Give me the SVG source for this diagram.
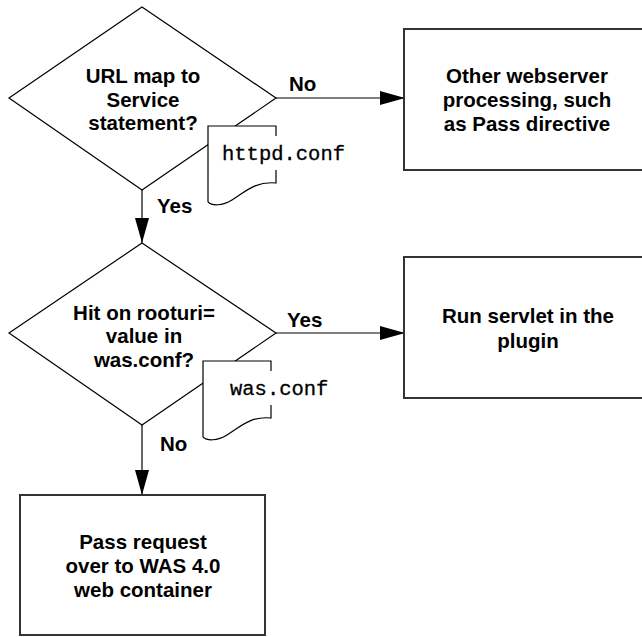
<svg xmlns="http://www.w3.org/2000/svg" width="642" height="637" viewBox="0 0 642 637">
  <style>
    .bg { fill: #ffffff; }
    .diamond { fill: #ffffff; stroke: #000000; stroke-width: 1.2; }
    .box { fill: #ffffff; stroke: #333333; stroke-width: 2; }
    .doc-fill { fill: #ffffff; stroke: none; }
    .doc-line { fill: none; stroke: #000000; stroke-width: 1.2; }
    .edge { fill: none; stroke: #000000; stroke-width: 1.2; }
    .label { font-family: "Liberation Sans", Arial, Helvetica, sans-serif; font-weight: bold; font-size: 20.5px; fill: #000000; text-anchor: middle; }
    .edge-label { font-family: "Liberation Sans", Arial, Helvetica, sans-serif; font-weight: bold; font-size: 20.5px; fill: #000000; }
    .file { font-family: "Liberation Mono", "Courier New", monospace; font-size: 20.5px; fill: #000000; stroke: #000000; stroke-width: 0.3; }
  </style>
  <defs>
    <marker id="arrow" viewBox="0 0 25 14" refX="25" refY="7" markerWidth="25" markerHeight="14" markerUnits="userSpaceOnUse" orient="auto">
      <path d="M0,0 L25,7 L0,14 Z" fill="#000000"/>
    </marker>
    <!-- document symbol: straight top, wavy bottom, open right side for the file name -->
    <g id="doc">
      <path class="doc-fill" d="M0,0 H68 V57 C47,55 37,66 24,74 C14,80 4,80 0,76 Z"/>
      <path class="doc-line" d="M0,76 V0 H68 V10 M68,44 V57 C47,55 37,66 24,74 C14,80 4,80 0,76"/>
    </g>
  </defs>

  <rect class="bg" x="0" y="0" width="642" height="637"/>

  <g id="connectors">
    <line class="edge" x1="276" y1="98" x2="405" y2="98" marker-end="url(#arrow)"/>
    <line class="edge" x1="142" y1="190" x2="142" y2="243" marker-end="url(#arrow)"/>
    <line class="edge" x1="276" y1="333" x2="405" y2="333" marker-end="url(#arrow)"/>
    <line class="edge" x1="142" y1="425" x2="142" y2="495" marker-end="url(#arrow)"/>
    <text class="edge-label" x="289" y="91">No</text>
    <text class="edge-label" x="157" y="213">Yes</text>
    <text class="edge-label" x="287" y="327">Yes</text>
    <text class="edge-label" x="160" y="451">No</text>
  </g>

  <g id="decision-url-map">
    <polygon class="diamond" points="142,7 276,98 142,190 9,98"/>
    <text class="label" x="143" y="83">URL map to</text>
    <text class="label" x="143" y="107">Service</text>
    <text class="label" x="143" y="130">statement?</text>
  </g>

  <g id="file-httpd-conf">
    <use href="#doc" x="208" y="126"/>
    <text class="file" x="222" y="160">httpd.conf</text>
  </g>

  <g id="other-processing">
    <rect class="box" x="404" y="29" width="260" height="141"/>
    <text class="label" x="527" y="83">Other webserver</text>
    <text class="label" x="527" y="107">processing, such</text>
    <text class="label" x="527" y="131">as Pass directive</text>
  </g>

  <g id="decision-rooturi">
    <polygon class="diamond" points="142,243 276,333 142,425 9,333"/>
    <text class="label" x="144" y="320">Hit on rooturi=</text>
    <text class="label" x="144" y="343">value in</text>
    <text class="label" x="144" y="367">was.conf?</text>
  </g>

  <g id="file-was-conf">
    <use href="#doc" x="203" y="361"/>
    <text class="file" x="230" y="395">was.conf</text>
  </g>

  <g id="run-servlet">
    <rect class="box" x="404" y="257" width="260" height="141"/>
    <text class="label" x="528" y="323">Run servlet in the</text>
    <text class="label" x="528" y="348">plugin</text>
  </g>

  <g id="pass-request">
    <rect class="box" x="20" y="495" width="245" height="140"/>
    <text class="label" x="143" y="549">Pass request</text>
    <text class="label" x="143" y="573">over to WAS 4.0</text>
    <text class="label" x="143" y="597">web container</text>
  </g>
</svg>
